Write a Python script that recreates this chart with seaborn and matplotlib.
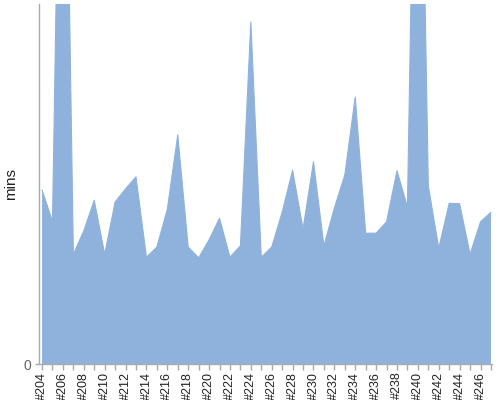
import numpy as np
import pandas as pd
import matplotlib
matplotlib.use("Agg")
import matplotlib.pyplot as plt
import seaborn as sns

# builds #204 .. #247
builds = [f"#{n}" for n in range(204, 248)]
mins = [29.0, 23.8, 130.0, 18.3, 22.2, 27.3, 18.3, 27.0, 29.2, 31.2,
        17.8, 19.5, 25.8, 38.2, 19.5, 17.7, 20.7, 24.3, 17.8, 19.7,
        57.0, 17.8, 19.5, 25.3, 32.3, 22.5, 33.7, 19.7, 26.0, 31.5,
        44.5, 21.8, 21.8, 23.7, 32.2, 26.2, 129.0, 29.7, 19.3, 26.8,
        26.7, 18.3, 23.7, 25.3]
y_max = 60

df = pd.DataFrame({"build": builds, "mins": mins})
df["pos"] = np.arange(len(df))

sns.set_theme(style="white")
plt.rcParams['font.family'] = ['Liberation Sans', 'DejaVu Sans']

fig = plt.figure(figsize=(5, 4), dpi=100)
ax = fig.add_axes([0.077, 0.09, 0.907, 0.9])

fill_col = "#8fb2dc"
sns.lineplot(data=df, x="pos", y="mins", ax=ax, color=fill_col, linewidth=0.8)
ax.fill_between(df["pos"], 0, df["mins"], color=fill_col, linewidth=0)

ax.set_xlim(-0.34, len(df) - 0.9)
ax.set_ylim(0, y_max)

ax.set_xticks(df["pos"])
ax.set_xticklabels([b if i % 2 == 0 else "" for i, b in enumerate(builds)],
                   rotation=90, fontsize=9, color="#222222")
ax.set_yticks([0])
ax.set_yticklabels(["0"], fontsize=10, color="#666666")

ax.set_xlabel("")
ax.set_ylabel("mins", fontsize=11, color="#222222")
ax.yaxis.set_label_coords(-0.045, 0.5)

for side in ["top", "right"]:
    ax.spines[side].set_visible(False)
for side in ["left", "bottom"]:
    ax.spines[side].set_color("#aaaaaa")
    ax.spines[side].set_linewidth(1)

ax.tick_params(axis="x", which="major", bottom=True, length=4, width=1,
               color="#aaaaaa", pad=1.5)
ax.tick_params(axis="y", which="major", left=True, length=3, width=1,
               color="#aaaaaa", pad=2)

fig.savefig("out.png", dpi=100)
